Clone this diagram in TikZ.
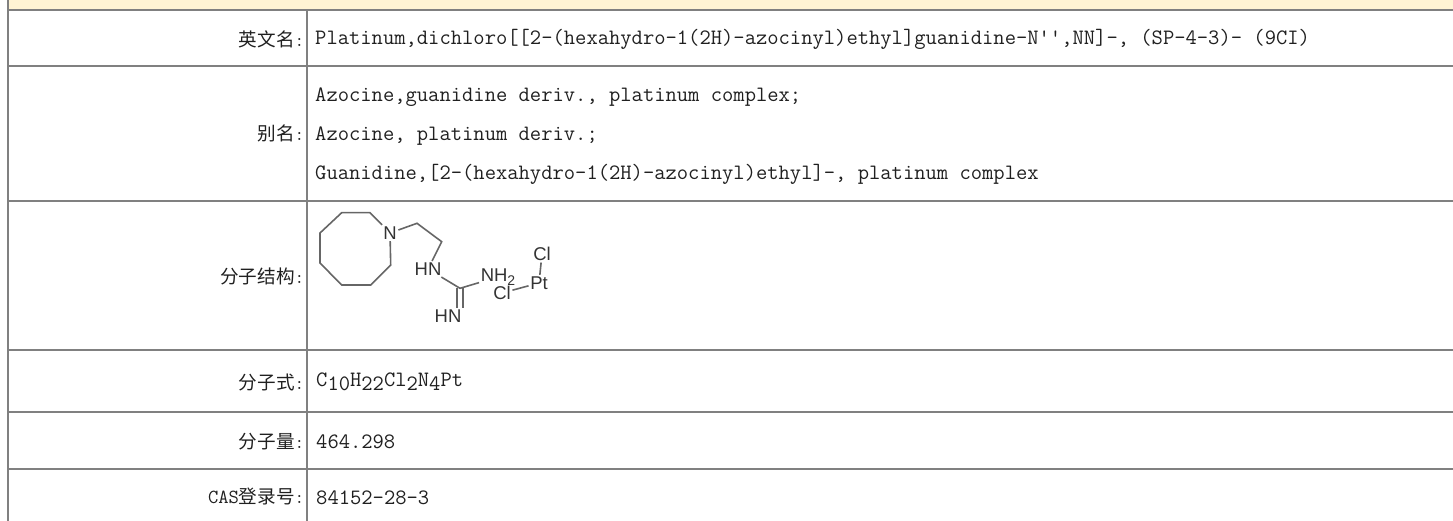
\documentclass[tikz,border=0pt]{standalone}
\usepackage{fontspec}
\newfontfamily\cjk{Noto Sans CJK SC}
\setmainfont{Liberation Serif}
\newfontfamily\lat{Latin Modern Mono}
\newfontfamily\chem{Liberation Sans}
\definecolor{headfill}{HTML}{FFF4D4}
\definecolor{rule}{HTML}{808080}
\definecolor{ink}{HTML}{202020}
\newcommand{\lbl}[1]{{\cjk #1}{\lat\fontsize{18.6}{20}\selectfont :}}
\newcommand{\lowr}[1]{\raisebox{-4.5pt}{#1}}
\tikzset{
  x=1pt,y=-1pt,
  rulel/.style={draw=rule,line width=2pt},
  lab/.style={anchor=east,inner sep=0pt,text=ink,font=\fontsize{18.6}{20}\selectfont},
  val/.style={anchor=base west,inner sep=0pt,text=ink,font=\lat\fontsize{21.95}{24}\selectfont},
  bond/.style={draw=black!60,line width=1.6pt},
  atom/.style={inner sep=1.5pt,text=black!80,font=\chem\fontsize{18.5}{18}\selectfont},
}
\begin{document}
\begin{tikzpicture}
\useasboundingbox (0,0) rectangle (1453,521);
\fill[headfill] (8,0) rectangle (1453,9);
\draw[rulel] (8,0) -- (8,521);
\draw[rulel] (306.7,10) -- (306.7,521);
\foreach \yy in {9.8,66.5,200.7,350,412,469.3} \draw[rulel] (8,\yy) -- (1453,\yy);
\node[lab] (l1) at (304.5,39) {\lbl{英文名}};
\node[lab] (l2) at (304.5,133) {\lbl{别名}};
\node[lab] (l3) at (304.5,276) {\lbl{分子结构}};
\node[lab] (l4) at (304.5,382.5) {\lbl{分子式}};
\node[lab] (l5) at (304.5,441.5) {\lbl{分子量}};
\node[lab] (l6) at (304.5,496.5) {{\lat\fontsize{20}{20}\selectfont CAS}\lbl{登录号}};
\node[val] (v1) at (315,45) {Platinum,dichloro[[2-(hexahydro-1(2H)-azocinyl)ethyl]guanidine-N'',NN]-, (SP-4-3)- (9CI)};
\node[val] (v2a) at (315,102) {Azocine,guanidine deriv., platinum complex;};
\node[val] (v2b) at (315,141) {Azocine, platinum deriv.;};
\node[val] (v2c) at (315,180) {Guanidine,[2-(hexahydro-1(2H)-azocinyl)ethyl]-, platinum complex};
\node[val] (v4) at (316,386) {C\lowr{10}H\lowr{22}Cl\lowr{2}N\lowr{4}Pt};
\node[val] (v5) at (316,448) {464.298};
\node[val] (v6) at (316,504) {84152-28-3};
\node[atom] (N1) at (390,233) {N};
\node[atom] (HN1) at (428,269) {HN};
\node[atom] (NH2) at (498,277) {NH\raisebox{-4pt}{\fontsize{14}{14}\selectfont 2}};
\node[atom] (HN2) at (448,316) {HN};
\node[atom] (Cl1) at (542,254) {Cl};
\node[atom] (Pt) at (539,283) {Pt};
\node[atom] (Cl2) at (502,293) {Cl};
\coordinate (c1) at (370,212.7); \coordinate (c2) at (341.7,212.7);
\coordinate (c3) at (320,233); \coordinate (c4) at (320,263);
\coordinate (c5) at (341.7,285); \coordinate (c6) at (370.7,285);
\coordinate (c7) at (390.7,265);
\coordinate (e1) at (417,223.3); \coordinate (e2) at (441.7,241.7);
\coordinate (g) at (460,288.3);
\draw[bond] (N1) -- (c1) -- (c2) -- (c3) -- (c4) -- (c5) -- (c6) -- (c7) -- (N1);
\draw[bond] (N1) -- (e1) -- (e2) -- (HN1);
\draw[bond] (HN1) -- (g) -- (NH2);
\draw[bond] ([xshift=-3pt]g) -- ([xshift=-3pt]HN2.north -| g);
\draw[bond] ([xshift=3pt]g) -- ([xshift=3pt]HN2.north -| g);
\draw[bond] (Cl1) -- (Pt);
\draw[bond] (Cl2) -- (Pt);
\end{tikzpicture}
\end{document}
